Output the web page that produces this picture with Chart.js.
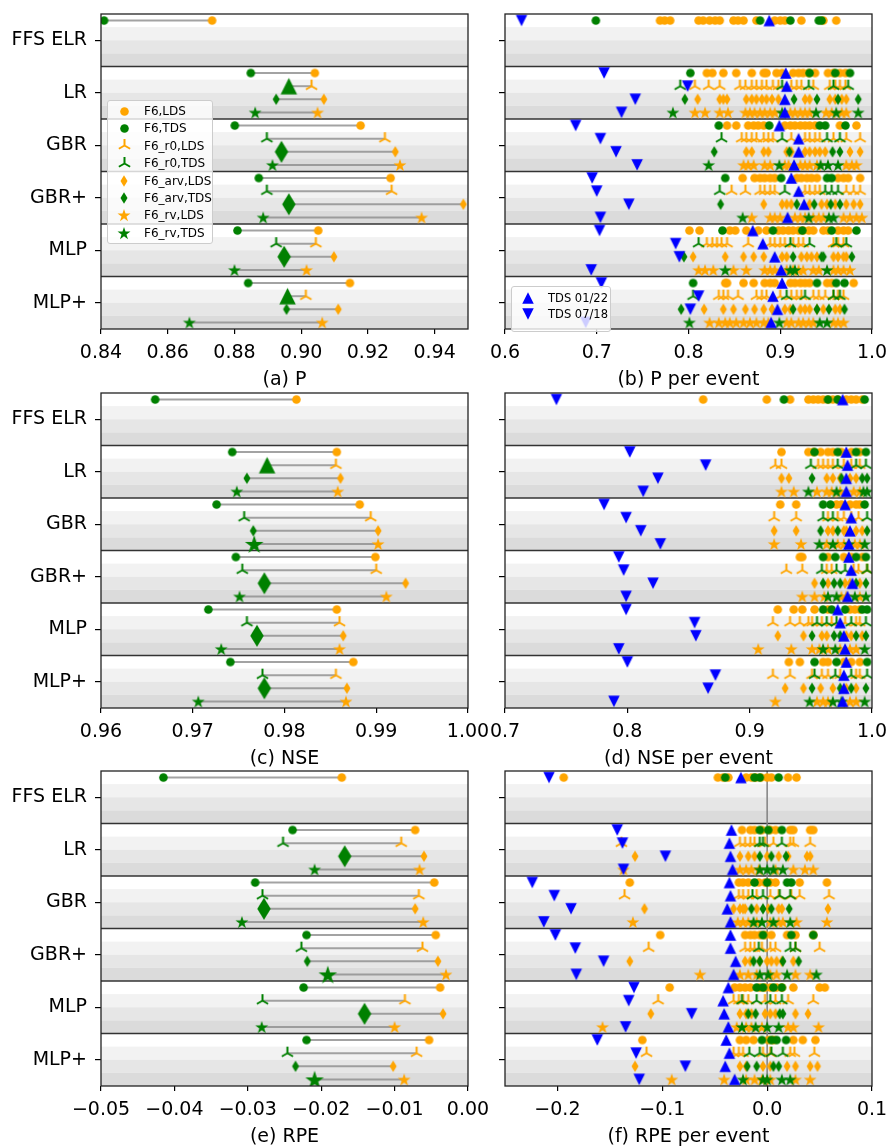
<!DOCTYPE html>
<html>
<head>
<meta charset="utf-8">
<title>P / NSE / RPE</title>
<script src="https://cdn.jsdelivr.net/npm/chart.js@4.4.1/dist/chart.umd.min.js"></script>
<style>
  body { margin: 0; background: #fff; font-family: 'DejaVu Sans', sans-serif; }
  #wrap { position: relative; width: 889px; height: 1147px; overflow: hidden; }
  #wrap canvas.chart { position: absolute; }
  .ttl { position: absolute; width: 367px; height: 22px; line-height: 22px; font-size: 19px; text-align: center; color: #000; }
  .lg { position: absolute; background: rgba(255,255,255,0.8); border: 1px solid #cccccc; border-radius: 3px; box-sizing: border-box; }
  .lg .it { position: absolute; left: 0; white-space: nowrap; color: #000; }
  .lg canvas { position: absolute; }
</style>
</head>
<body>
<div id="wrap"></div>
<script>
// categories and variants
const categories = ['FFS ELR', 'LR', 'GBR', 'GBR+', 'MLP', 'MLP+'];
const variants = ['F6', 'F6_r0', 'F6_arv', 'F6_rv'];

// tick labels
const pTicks = [0.84, 0.86, 0.88, 0.90, 0.92, 0.94];
const bTicks = [0.6, 0.7, 0.8, 0.9, 1.0];
const cTicks = [0.96, 0.97, 0.98, 0.99, 1.00];
const dTicks = [0.7, 0.8, 0.9, 1.0];
const eTicks = [-0.05, -0.04, -0.03, -0.02, -0.01, 0.00];
const fTicks = [-0.2, -0.1, 0.0, 0.1];

// (a) P  -- rows: variants, columns: categories
const pLDS = [
  [0.8733, 0.9041, 0.9178, 0.9268, 0.9051, 0.9146],
  [null, 0.9031, 0.9251, 0.9271, 0.9044, 0.9014],
  [null, 0.9068, 0.9282, 0.9486, 0.9098, 0.9111],
  [null, 0.9049, 0.9296, 0.9361, 0.9016, 0.9063]
];
const pTDS = [
  [0.8409, 0.8849, 0.8801, 0.8873, 0.8809, 0.8841],
  [null, 0.8963, 0.8897, 0.8897, 0.8925, 0.8959],
  [null, 0.8925, 0.8941, 0.8963, 0.8949, 0.8956],
  [null, 0.8862, 0.8914, 0.8886, 0.8800, 0.8665]
];

// (c) NSE
const cLDS = [
  [0.9813, 0.9857, 0.9882, 0.9899, 0.9857, 0.9875],
  [null, 0.9856, 0.9894, 0.9900, 0.9860, 0.9856],
  [null, 0.9861, 0.9902, 0.9932, 0.9864, 0.9868],
  [null, 0.9858, 0.9902, 0.9911, 0.9860, 0.9867]
];
const cTDS = [
  [0.9659, 0.9743, 0.9726, 0.9747, 0.9717, 0.9741],
  [null, 0.9781, 0.9756, 0.9754, 0.9759, 0.9776],
  [null, 0.9759, 0.9766, 0.9778, 0.9770, 0.9778],
  [null, 0.9748, 0.9767, 0.9751, 0.9731, 0.9706]
];

// (e) RPE
const eLDS = [
  [-0.0172, -0.0072, -0.0046, -0.0044, -0.0038, -0.0053],
  [null, -0.0091, -0.0067, -0.0062, -0.0086, -0.0070],
  [null, -0.0060, -0.0072, -0.0041, -0.0034, -0.0102],
  [null, -0.0066, -0.0061, -0.0030, -0.0100, -0.0087]
];
const eTDS = [
  [-0.0415, -0.0239, -0.0290, -0.0220, -0.0224, -0.0220],
  [null, -0.0252, -0.0280, -0.0227, -0.0280, -0.0246],
  [null, -0.0168, -0.0278, -0.0219, -0.0141, -0.0235],
  [null, -0.0209, -0.0308, -0.0191, -0.0281, -0.0209]
];

// (b) P per event -- per category, per variant
const bEvLDS = [
  [[0.769, 0.774, 0.780, 0.811, 0.816, 0.823, 0.829, 0.834, 0.849, 0.854, 0.860, 0.874, 0.894, 0.900, 0.905, 0.923, 0.947, 0.961]],
  [[0.820, 0.826, 0.838, 0.852, 0.869, 0.882, 0.885, 0.896, 0.902, 0.914, 0.920, 0.925, 0.931, 0.938, 0.952, 0.958, 0.965, 0.971],
   [0.807, 0.822, 0.834, 0.856, 0.862, 0.869, 0.874, 0.880, 0.885, 0.892, 0.898, 0.912, 0.918, 0.923, 0.936, 0.954, 0.960, 0.965, 0.971],
   [0.810, 0.834, 0.838, 0.842, 0.863, 0.869, 0.874, 0.880, 0.885, 0.891, 0.898, 0.927, 0.932, 0.954, 0.960, 0.967, 0.972],
   [0.807, 0.818, 0.834, 0.843, 0.862, 0.867, 0.872, 0.878, 0.883, 0.889, 0.894, 0.911, 0.916, 0.922, 0.927, 0.932, 0.950, 0.956, 0.967, 0.972]],
  [[0.842, 0.852, 0.865, 0.871, 0.876, 0.882, 0.905, 0.911, 0.916, 0.922, 0.927, 0.932, 0.938, 0.965, 0.983],
   [0.858, 0.863, 0.869, 0.874, 0.882, 0.887, 0.892, 0.912, 0.927, 0.932, 0.938, 0.943, 0.958, 0.972, 0.987],
   [0.863, 0.869, 0.882, 0.887, 0.907, 0.912, 0.927, 0.932, 0.938, 0.943, 0.949, 0.976, 0.987],
   [0.860, 0.865, 0.871, 0.883, 0.889, 0.905, 0.909, 0.922, 0.927, 0.932, 0.940, 0.972, 0.978, 0.983]],
  [[0.859, 0.872, 0.878, 0.883, 0.889, 0.894, 0.918, 0.923, 0.929, 0.934, 0.940, 0.963, 0.969, 0.974, 0.987],
   [0.847, 0.862, 0.878, 0.883, 0.889, 0.894, 0.927, 0.932, 0.938, 0.943, 0.972, 0.980, 0.987],
   [0.882, 0.902, 0.907, 0.912, 0.932, 0.945, 0.951, 0.960, 0.972, 0.980, 0.987],
   [0.869, 0.889, 0.894, 0.900, 0.916, 0.922, 0.927, 0.936, 0.942, 0.947, 0.969, 0.976, 0.983, 0.989]],
  [[0.801, 0.812, 0.845, 0.851, 0.863, 0.876, 0.885, 0.898, 0.903, 0.909, 0.914, 0.920, 0.925, 0.931, 0.936, 0.947, 0.952, 0.963, 0.969, 0.974],
   [0.820, 0.826, 0.831, 0.836, 0.842, 0.865, 0.889, 0.894, 0.900, 0.905, 0.914, 0.920, 0.925, 0.958, 0.963, 0.969],
   [0.805, 0.840, 0.860, 0.871, 0.882, 0.902, 0.907, 0.923, 0.929, 0.934, 0.940, 0.958, 0.963, 0.969, 0.972],
   [0.811, 0.818, 0.827, 0.849, 0.863, 0.883, 0.889, 0.894, 0.907, 0.914, 0.920, 0.925, 0.936, 0.942, 0.958, 0.963, 0.969, 0.976]],
  [[0.840, 0.842, 0.860, 0.871, 0.883, 0.889, 0.894, 0.911, 0.916, 0.922, 0.927, 0.932, 0.951, 0.956, 0.980],
   [0.833, 0.838, 0.843, 0.854, 0.874, 0.880, 0.885, 0.900, 0.912, 0.918, 0.923, 0.936, 0.942, 0.949, 0.958, 0.963, 0.969],
   [0.817, 0.838, 0.849, 0.862, 0.872, 0.882, 0.891, 0.905, 0.911, 0.922, 0.927, 0.932, 0.940, 0.947, 0.960, 0.965],
   [0.823, 0.833, 0.840, 0.845, 0.852, 0.860, 0.867, 0.874, 0.882, 0.887, 0.907, 0.912, 0.920, 0.925, 0.931, 0.936, 0.958, 0.963, 0.969]]
];
const bEvTDS = [
  [[0.699, 0.878, 0.911, 0.942, 0.945]],
  [[0.802, 0.932, 0.960, 0.976], [0.791, 0.902, 0.931, 0.958, 0.974], [0.796, 0.915, 0.940, 0.963, 0.985], [0.783, 0.902, 0.939, 0.961, 0.985]],
  [[0.833, 0.888, 0.943, 0.949, 0.971], [0.836, 0.902, 0.951, 0.965], [0.828, 0.910, 0.957, 0.965], [0.822, 0.899, 0.944, 0.952, 0.963]],
  [[0.840, 0.901, 0.951, 0.956], [0.834, 0.905, 0.949, 0.956, 0.963], [0.835, 0.918, 0.937, 0.955, 0.965], [0.859, 0.931, 0.953, 0.958]],
  [[0.837, 0.892, 0.924, 0.956, 0.983], [0.811, 0.911, 0.932, 0.961, 0.972], [0.795, 0.914, 0.945, 0.947, 0.978], [0.840, 0.911, 0.916, 0.951]],
  [[0.805, 0.940, 0.961, 0.970], [0.805, 0.907, 0.927, 0.958, 0.965], [0.792, 0.914, 0.940, 0.953, 0.970], [0.801, 0.899, 0.943, 0.951]]
];
const bUp = [[0.888], [0.906, 0.907, 0.905, 0.905], [0.899, 0.920, 0.920, 0.915], [0.912, 0.920, 0.926, 0.908], [0.870, 0.881, 0.894, 0.901], [0.902, 0.892, 0.897, 0.890]];
const bDown = [[0.618], [0.708, 0.799, 0.742, 0.727], [0.677, 0.704, 0.721, 0.744], [0.695, 0.700, 0.735, 0.704], [0.703, 0.786, 0.790, 0.694], [0.705, 0.811, 0.802, 0.688]];

// (d) NSE per event
const dEvLDS = [
  [[0.862, 0.914, 0.933, 0.948, 0.952, 0.956, 0.960, 0.964, 0.968, 0.972, 0.979, 0.983, 0.987, 0.992]],
  [[0.926, 0.948, 0.952, 0.958, 0.964, 0.968, 0.975, 0.983, 0.990],
   [0.921, 0.926, 0.956, 0.960, 0.964, 0.968, 0.977, 0.983, 0.990],
   [0.926, 0.932, 0.963, 0.968, 0.974, 0.982, 0.987],
   [0.926, 0.936, 0.955, 0.963, 0.967, 0.974, 0.985, 0.990]],
  [[0.925, 0.938, 0.971, 0.975, 0.982, 0.987, 0.990],
   [0.920, 0.938, 0.964, 0.972, 0.977, 0.983, 0.989],
   [0.920, 0.938, 0.964, 0.968, 0.977, 0.979, 0.987, 0.992],
   [0.920, 0.942, 0.963, 0.972, 0.977, 0.986, 0.990]],
  [[0.941, 0.943, 0.964, 0.977, 0.983, 0.992],
   [0.930, 0.943, 0.963, 0.967, 0.985, 0.989, 0.996],
   [0.953, 0.964, 0.978, 0.982, 0.990],
   [0.943, 0.953, 0.961, 0.975, 0.979, 0.990]],
  [[0.923, 0.936, 0.943, 0.953, 0.964, 0.982, 0.986, 0.990],
   [0.919, 0.933, 0.941, 0.948, 0.951, 0.959, 0.967, 0.978, 0.987, 0.990],
   [0.923, 0.944, 0.959, 0.963, 0.979, 0.983, 0.992],
   [0.907, 0.934, 0.951, 0.957, 0.964, 0.974, 0.982, 0.987]],
  [[0.932, 0.941, 0.960, 0.964, 0.977, 0.983, 0.990],
   [0.919, 0.933, 0.951, 0.959, 0.964, 0.974, 0.987, 0.990],
   [0.929, 0.944, 0.958, 0.968, 0.979, 0.987],
   [0.921, 0.955, 0.960, 0.964, 0.982, 0.987]]
];
const dEvTDS = [
  [[0.928, 0.964, 0.972, 0.994]],
  [[0.953, 0.972, 0.987, 0.995], [0.950, 0.972, 0.987, 0.995], [0.951, 0.975, 0.992, 0.996], [0.948, 0.971, 0.993, 0.996]],
  [[0.960, 0.966, 0.994], [0.960, 0.968, 0.996], [0.958, 0.972, 0.996], [0.957, 0.968, 0.981, 0.994]],
  [[0.960, 0.970, 0.987, 0.995], [0.959, 0.971, 0.978, 0.996], [0.960, 0.969, 0.974, 0.987, 0.995], [0.964, 0.971, 0.986, 0.995]],
  [[0.960, 0.967, 0.978, 0.992, 0.996], [0.955, 0.963, 0.971, 0.983, 0.995], [0.951, 0.969, 0.974, 0.987, 0.995], [0.960, 0.970, 0.994]],
  [[0.953, 0.971, 0.996], [0.953, 0.970, 0.983, 0.996], [0.951, 0.974, 0.983, 0.995], [0.949, 0.968, 0.975, 0.994]]
];
const dUp = [[0.976], [0.979, 0.980, 0.979, 0.979], [0.978, 0.983, 0.982, 0.981], [0.981, 0.983, 0.984, 0.980], [0.972, 0.974, 0.977, 0.978], [0.979, 0.977, 0.977, 0.976]];
const dDown = [[0.742], [0.802, 0.864, 0.825, 0.813], [0.781, 0.799, 0.811, 0.827], [0.793, 0.797, 0.821, 0.799], [0.799, 0.855, 0.856, 0.793], [0.800, 0.872, 0.866, 0.789]];

// (f) RPE per event
const fEvLDS = [
  [[-0.194, -0.047, -0.042, -0.037, -0.020, -0.015, -0.011, -0.006, 0.000, 0.004, 0.020, 0.028]],
  [[-0.024, -0.016, -0.012, -0.005, 0.003, 0.008, 0.022, 0.025, 0.041, 0.044],
   [-0.139, -0.026, -0.021, -0.016, -0.012, -0.002, 0.006, 0.022, 0.025, 0.041],
   [-0.126, -0.026, -0.018, -0.012, 0.000, 0.011, 0.020, 0.038, 0.041],
   [-0.137, -0.026, -0.020, -0.015, -0.008, 0.008, 0.025, 0.036, 0.044]],
  [[-0.131, -0.027, -0.023, -0.018, -0.008, -0.002, 0.003, 0.008, 0.031, 0.057],
   [-0.136, -0.027, -0.023, -0.018, -0.010, 0.003, 0.011, 0.023, 0.031, 0.059],
   [-0.117, -0.032, -0.026, -0.023, -0.021, -0.010, 0.001, 0.011, 0.014, 0.058],
   [-0.128, -0.028, -0.023, -0.018, -0.010, 0.003, 0.011, 0.015, 0.028, 0.057]],
  [[-0.102, -0.021, -0.016, -0.012, -0.007, -0.002, 0.004, 0.019, 0.027, 0.044],
   [-0.113, -0.021, -0.016, -0.012, -0.005, 0.003, 0.008, 0.027, 0.050],
   [-0.131, -0.021, -0.016, -0.007, 0.000, 0.004, 0.009, 0.014, 0.025],
   [-0.064, -0.026, -0.018, -0.010, 0.003, 0.009, 0.027, 0.041]],
  [[-0.093, -0.031, -0.026, -0.021, -0.016, -0.007, -0.002, 0.003, 0.009, 0.014, 0.025, 0.050, 0.055],
   [-0.104, -0.032, -0.027, -0.023, -0.018, -0.002, 0.008, 0.020, 0.044],
   [-0.111, -0.026, -0.020, -0.015, -0.002, 0.003, 0.008, 0.027, 0.039],
   [-0.157, -0.029, -0.020, -0.015, -0.005, 0.020, 0.025, 0.049]],
  [[-0.119, -0.026, -0.020, -0.013, 0.001, 0.006, 0.025, 0.034, 0.046],
   [-0.115, -0.032, -0.027, -0.023, -0.004, 0.003, 0.022, 0.026, 0.045],
   [-0.126, -0.026, -0.020, -0.004, 0.003, 0.019, 0.027, 0.041, 0.048],
   [-0.091, -0.041, -0.020, -0.012, -0.005, 0.003, 0.027, 0.041]]
];
const fEvTDS = [
  [[-0.040, -0.012, -0.007, 0.011]],
  [[-0.007, 0.001, 0.014], [-0.007, -0.004, 0.014], [-0.007, 0.004, 0.018], [-0.007, 0.000, 0.006, 0.015]],
  [[-0.012, 0.000, 0.019, 0.023], [-0.014, -0.004, 0.012, 0.022], [-0.015, -0.004, 0.004, 0.021], [-0.013, -0.005, 0.006, 0.022]],
  [[-0.004, 0.023, 0.044], [-0.008, 0.022, 0.027], [-0.013, -0.007, 0.015, 0.030], [-0.007, 0.001, 0.019, 0.047]],
  [[-0.010, -0.004, 0.006, 0.014], [-0.024, -0.010, 0.003, 0.014], [-0.018, -0.011, 0.012, 0.015], [-0.024, -0.011, 0.000, 0.011]],
  [[-0.005, 0.004, 0.009, 0.018], [-0.017, -0.007, 0.004, 0.015], [-0.019, -0.010, 0.006, 0.011], [-0.023, -0.004, 0.000, 0.014, 0.022]]
];
const fUp = [[-0.025], [-0.034, -0.036, -0.035, -0.033], [-0.036, -0.035, -0.038, -0.035], [-0.035, -0.035, -0.030, -0.032], [-0.037, -0.042, -0.041, -0.037], [-0.039, -0.036, -0.040, -0.031]];
const fDown = [[-0.208], [-0.143, -0.138, -0.097, -0.137], [-0.224, -0.203, -0.187, -0.213], [-0.202, -0.183, -0.156, -0.182], [-0.127, -0.132, -0.072, -0.135], [-0.162, -0.125, -0.078, -0.122]];

// 스타일
const OR = '#ffa500', GR = '#008000', BL = '#0000ff';
const FONT = "'DejaVu Sans', sans-serif";
const rowShade = ['#ffffff', '#f2f2f2', '#e6e6e6', '#dbdbdb'];

Chart.defaults.font.family = FONT;

// 마커 이미지 (matplotlib 모양)
function mk(size, draw) {
  const c = document.createElement('canvas');
  c.width = c.height = size;
  const g = c.getContext('2d');
  g.translate(size / 2, size / 2);
  draw(g);
  return c;
}
function circle(col, r) {
  return mk(Math.ceil(r * 2 + 2), g => {
    g.fillStyle = col; g.beginPath(); g.arc(0, 0, r, 0, Math.PI * 2); g.fill();
  });
}
function triUp(col, r) {
  return mk(Math.ceil(r * 2 + 4), g => {
    g.strokeStyle = col; g.lineWidth = 2; g.lineCap = 'butt';
    g.beginPath();
    g.moveTo(0, 0); g.lineTo(0, -r);
    g.moveTo(0, 0); g.lineTo(-0.866 * r, 0.5 * r);
    g.moveTo(0, 0); g.lineTo(0.866 * r, 0.5 * r);
    g.stroke();
  });
}
function diamond(col, w, h) {
  return mk(Math.ceil(h + 2), g => {
    g.fillStyle = col; g.beginPath();
    g.moveTo(0, -h / 2); g.lineTo(w / 2, 0); g.lineTo(0, h / 2); g.lineTo(-w / 2, 0);
    g.closePath(); g.fill();
  });
}
function star(col, r) {
  return mk(Math.ceil(r * 2 + 2), g => {
    g.fillStyle = col; g.beginPath();
    for (let k = 0; k < 10; k++) {
      const rr = k % 2 === 0 ? r : r * 0.382;
      const a = -Math.PI / 2 + k * Math.PI / 5;
      const px = Math.cos(a) * rr, py = Math.sin(a) * rr + r * 0.1;
      if (k === 0) g.moveTo(px, py); else g.lineTo(px, py);
    }
    g.closePath(); g.fill();
  });
}
function tri(col, s, down) {
  return mk(Math.ceil(s + 2), g => {
    g.fillStyle = col; g.beginPath();
    if (down) { g.moveTo(-s / 2, -s / 2); g.lineTo(s / 2, -s / 2); g.lineTo(0, s / 2); }
    else { g.moveTo(0, -s / 2); g.lineTo(s / 2, s / 2); g.lineTo(-s / 2, s / 2); }
    g.closePath(); g.fill();
  });
}
const smallMarks = col => [circle(col, 4.3), triUp(col, 6.5), diamond(col, 7, 11.5), star(col, 6.8)];
const M = {
  orange: smallMarks(OR),
  green: smallMarks(GR),
  big: [circle(GR, 6.5), tri(GR, 16.5, false), diamond(GR, 13.5, 22), star(GR, 9.8)],
  up: tri(BL, 11.5, false),
  down: tri(BL, 11.5, true)
};

// 행 위치: 카테고리 i, 변형 j
function rowY(i, j) { return i - 0.375 + 0.25 * j; }

function pairDatasets(p) {
  const ds = [];
  // 가장 좋은 TDS (가장 큰 값) 찾기
  const best = categories.map((c, i) => {
    let b = -1, bv = -Infinity;
    for (let j = 1; j < variants.length; j++) {
      const v = p.tds[j][i];
      if (v != null && v > bv) { bv = v; b = j; }
    }
    return b;
  });
  for (let j = 0; j < variants.length; j++) {
    const o = [], g = [], gs = [];
    categories.forEach((c, i) => {
      const a = p.lds[j][i], b = p.tds[j][i];
      if (a == null || b == null) return;
      const y = rowY(i, j);
      ds.push({ data: [{ x: b, y: y }, { x: a, y: y }], showLine: true, borderColor: 'rgba(140,140,140,0.8)', borderWidth: 2, pointRadius: 0, order: 5 });
      o.push({ x: a, y: y });
      g.push({ x: b, y: y });
      gs.push(best[i] === j ? M.big[j] : M.green[j]);
    });
    ds.push({ label: variants[j] + ',LDS', data: o, pointStyle: M.orange[j], pointRadius: 5, order: 2 });
    ds.push({ label: variants[j] + ',TDS', data: g, pointStyle: gs, pointRadius: 5, order: 1 });
  }
  return ds;
}

function eventDatasets(p) {
  const ds = [];
  for (let j = 0; j < variants.length; j++) {
    const o = [], g = [];
    categories.forEach((c, i) => {
      (p.lds[i][j] || []).forEach(v => o.push({ x: v, y: rowY(i, j) }));
      (p.tds[i][j] || []).forEach(v => g.push({ x: v, y: rowY(i, j) }));
    });
    ds.push({ label: variants[j] + ',LDS', data: o, pointStyle: M.orange[j], pointRadius: 5, order: 3 });
    ds.push({ label: variants[j] + ',TDS', data: g, pointStyle: M.green[j], pointRadius: 5, order: 2 });
  }
  const up = [], dn = [];
  categories.forEach((c, i) => {
    p.up[i].forEach((v, j) => up.push({ x: v, y: rowY(i, j) }));
    p.down[i].forEach((v, j) => dn.push({ x: v, y: rowY(i, j) }));
  });
  ds.push({ label: 'TDS 01/22', data: up, pointStyle: M.up, pointRadius: 5, order: 1 });
  ds.push({ label: 'TDS 07/18', data: dn, pointStyle: M.down, pointRadius: 5, order: 1 });
  return ds;
}

// 배경 줄무늬, 구분선, 테두리
const bandPlugin = {
  id: 'bands',
  beforeDatasetsDraw(chart, args, opts) {
    const { ctx, chartArea: a, scales: { x, y } } = chart;
    ctx.save();
    for (let i = 0; i < categories.length; i++) {
      for (let j = 0; j < 4; j++) {
        const t = y.getPixelForValue(i - 0.5 + j * 0.25);
        const b = y.getPixelForValue(i - 0.25 + j * 0.25);
        ctx.fillStyle = rowShade[j];
        ctx.fillRect(a.left, t, a.width, b - t);
      }
    }
    ctx.strokeStyle = '#333'; ctx.lineWidth = 1.5;
    for (let i = 1; i < categories.length; i++) {
      const yy = y.getPixelForValue(i - 0.5);
      ctx.beginPath(); ctx.moveTo(a.left, yy); ctx.lineTo(a.right, yy); ctx.stroke();
    }
    if (opts.zero) {
      const xx = x.getPixelForValue(0);
      ctx.strokeStyle = '#808080'; ctx.lineWidth = 1.5;
      ctx.beginPath(); ctx.moveTo(xx, a.top); ctx.lineTo(xx, a.bottom); ctx.stroke();
    }
    ctx.restore();
  },
  afterDatasetsDraw(chart) {
    const { ctx, chartArea: a } = chart;
    ctx.save();
    ctx.strokeStyle = '#222'; ctx.lineWidth = 1.3;
    ctx.strokeRect(a.left, a.top, a.width, a.height);
    ctx.restore();
  }
};

const panels = [
  { kind: 'pair', col: 0, top: 14, min: 0.84, max: 0.95, ticks: pTicks, dec: 2, lds: pLDS, tds: pTDS, title: '(a) P' },
  { kind: 'event', col: 1, top: 14, min: 0.6, max: 1.0, ticks: bTicks, dec: 1, lds: bEvLDS, tds: bEvTDS, up: bUp, down: bDown, title: '(b) P per event' },
  { kind: 'pair', col: 0, top: 393, min: 0.96, max: 1.0, ticks: cTicks, dec: 2, lds: cLDS, tds: cTDS, title: '(c) NSE' },
  { kind: 'event', col: 1, top: 393, min: 0.7, max: 1.0, ticks: dTicks, dec: 1, lds: dEvLDS, tds: dEvTDS, up: dUp, down: dDown, title: '(d) NSE per event' },
  { kind: 'pair', col: 0, top: 771, min: -0.05, max: 0.0, ticks: eTicks, dec: 2, lds: eLDS, tds: eTDS, title: '(e) RPE' },
  { kind: 'event', col: 1, top: 771, min: -0.25, max: 0.1, ticks: fTicks, dec: 1, lds: fEvLDS, tds: fEvTDS, up: fUp, down: fDown, zero: true, title: '(f) RPE per event' }
];

const wrap = document.getElementById('wrap');

function buildPanel(p) {
  const left = p.col === 0;
  const W = left ? 500 : 409, H = 365;
  const x0 = left ? 0 : 480;
  const yW = left ? 101 : 25;
  const padR = left ? W - 468 : W - 392;

  const cv = document.createElement('canvas');
  cv.className = 'chart';
  cv.width = W; cv.height = H;
  cv.style.left = x0 + 'px';
  cv.style.top = (p.top - 10) + 'px';
  wrap.appendChild(cv);

  new Chart(cv, {
    type: 'scatter',
    data: { datasets: p.kind === 'pair' ? pairDatasets(p) : eventDatasets(p) },
    options: {
      responsive: false,
      animation: false,
      devicePixelRatio: 1,
      events: [],
      layout: { padding: { top: 10, right: padR, bottom: 0, left: 0 } },
      plugins: {
        legend: { display: false },
        tooltip: { enabled: false },
        bands: { zero: !!p.zero }
      },
      scales: {
        x: {
          type: 'linear', min: p.min, max: p.max,
          afterBuildTicks: s => { s.ticks = p.ticks.map(v => ({ value: v })); },
          afterFit: s => { s.height = 40; s.paddingLeft = 0; s.paddingRight = 0; },
          border: { display: false },
          grid: { drawOnChartArea: false, color: '#000', tickColor: '#000', tickLength: 5, lineWidth: 1.2 },
          ticks: {
            color: '#000', font: { family: FONT, size: 19 }, padding: 8,
            maxRotation: 0, autoSkip: false,
            callback: v => v.toFixed(p.dec).replace('-', '\u2212')
          }
        },
        y: {
          type: 'linear', reverse: true, min: -0.5, max: 5.5,
          afterBuildTicks: s => { s.ticks = categories.map((c, i) => ({ value: i })); },
          afterFit: s => { s.width = yW; s.paddingTop = 0; s.paddingBottom = 0; },
          border: { display: false },
          grid: { drawOnChartArea: false, color: '#000', tickColor: '#000', tickLength: 6, lineWidth: 1.2 },
          ticks: {
            color: '#000', font: { family: FONT, size: 19 }, padding: 8, autoSkip: false,
            callback: v => left ? categories[v] : ''
          }
        }
      }
    },
    plugins: [bandPlugin]
  });

  const t = document.createElement('div');
  t.className = 'ttl';
  t.textContent = p.title;
  t.style.left = (left ? 101 : 505) + 'px';
  t.style.top = (p.top + 315 + 49 - 11) + 'px';
  wrap.appendChild(t);
}

function legendBox(box, items, firstY, step, markX, textX, fontSize) {
  const d = document.createElement('div');
  d.className = 'lg';
  d.style.left = box[0] + 'px'; d.style.top = box[1] + 'px';
  d.style.width = box[2] + 'px'; d.style.height = box[3] + 'px';
  items.forEach((it, k) => {
    const cy = firstY + k * step;
    const m = it[0];
    m.style.left = (markX - m.width / 2) + 'px';
    m.style.top = (cy - m.height / 2) + 'px';
    d.appendChild(m);
    const s = document.createElement('div');
    s.className = 'it';
    s.textContent = it[1];
    s.style.left = textX + 'px';
    s.style.top = (cy - 9) + 'px';
    s.style.height = '18px';
    s.style.lineHeight = '18px';
    s.style.fontSize = fontSize + 'px';
    d.appendChild(s);
  });
  wrap.appendChild(d);
}

panels.forEach(buildPanel);

// (a) 범례
const legA = [];
variants.forEach((v, j) => {
  legA.push([smallMarks(OR)[j], v + ',LDS']);
  legA.push([smallMarks(GR)[j], v + ',TDS']);
});
legendBox([107, 100, 106, 144], legA, 10, 17.4, 16, 36, 12);

// (b) 범례
legendBox([511, 286, 100, 46], [[tri(BL, 11.5, false), 'TDS 01/22'], [tri(BL, 11.5, true), 'TDS 07/18']], 11, 15.6, 16, 36, 11.5);
</script>
</body>
</html>
